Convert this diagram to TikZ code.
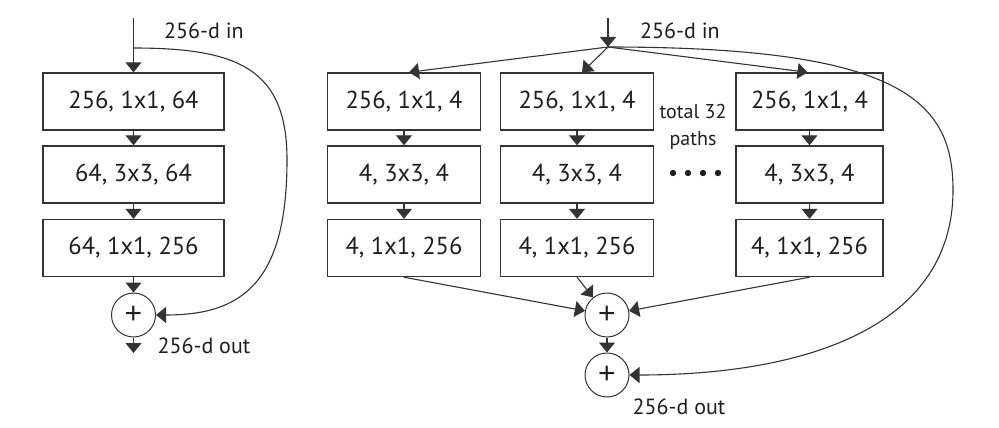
\documentclass[tikz,border=0pt]{standalone}
\usepackage{fontspec}
\setmainfont{PT Sans}
\newfontfamily\plusfont{Liberation Sans}
\usetikzlibrary{arrows.meta}
\definecolor{lncol}{HTML}{333333}
\definecolor{txcol}{HTML}{1E1E1E}
\begin{document}
\begin{tikzpicture}[x=1pt,y=-1pt,
  box/.style={draw=lncol, line width=1.4pt, minimum height=57pt, inner sep=0pt, font=\fontsize{24.5}{28}\selectfont, text=txcol},
  sumnode/.style={draw=lncol, line width=1pt, circle, minimum size=44pt, inner sep=0pt, font=\plusfont\fontsize{30}{30}\selectfont, text=txcol},
  lbl/.style={font=\fontsize{22}{26}\selectfont, text=txcol, inner sep=0pt},
  arr/.style={draw=lncol, line width=1.1pt, -{Triangle[width=16pt,length=10pt]}},
  dotmark/.style={fill=txcol}]
\useasboundingbox (0,0) rectangle (999,428);
% ---------------- left block ----------------
\node[box, minimum width=181pt] (L1) at (133.5,101.5) {256, 1x1, 64};
\node[box, minimum width=181pt] (L2) at (133.5,174.5) {64, 3x3, 64};
\node[box, minimum width=181pt] (L3) at (133.5,248) {64, 1x1, 256};
\node[sumnode] (Ls) at (133.5,315) {+};
\coordinate (Lin) at (133.5,18);
\coordinate (Lsplit) at (133.5,48);
\coordinate (Lout) at (133.5,353);
\node[lbl] (Lintxt) at (204,31) {256-d in};
\node[lbl] (Louttxt) at (204,346) {256-d out};
\draw[arr] (Lin) -- (L1);
\draw[arr] (L1) -- (L2);
\draw[arr] (L2) -- (L3);
\draw[arr] (L3) -- (Ls);
\draw[arr] (Ls) -- (Lout);
\draw[arr] (Lsplit) .. controls (240,48) and (287,70) .. (287,160)
  .. controls (287,285) and (240,315) .. (Ls);
% ---------------- right block ----------------
\node[box, minimum width=153pt] (A1) at (404,101.5) {256, 1x1, 4};
\node[box, minimum width=153pt] (A2) at (404,174.5) {4, 3x3, 4};
\node[box, minimum width=153pt] (A3) at (404,248) {4, 1x1, 256};
\node[box, minimum width=153pt] (B1) at (577,101.5) {256, 1x1, 4};
\node[box, minimum width=153pt] (B2) at (577,174.5) {4, 3x3, 4};
\node[box, minimum width=153pt] (B3) at (577,248) {4, 1x1, 256};
\node[box, minimum width=147pt] (C1) at (809.5,101.5) {256, 1x1, 4};
\node[box, minimum width=147pt] (C2) at (809.5,174.5) {4, 3x3, 4};
\node[box, minimum width=147pt] (C3) at (809.5,248) {4, 1x1, 256};
\node[sumnode] (R1) at (607,315) {+};
\node[sumnode] (R2) at (607,375) {+};
\coordinate (Rin) at (608,18);
\coordinate (Rsplit) at (608,47);
\node[lbl] (Rintxt) at (680,31) {256-d in};
\node[lbl] (Routtxt) at (679,407) {256-d out};
\node[lbl, font=\fontsize{20}{27}\selectfont, align=center] (paths) at (693,127) {total 32\\paths};
\foreach \dx in {673,688,703,718} \fill[dotmark] (\dx,173) circle (3.2pt);
\draw[arr] (Rin) -- (Rsplit);
\draw[arr] (Rsplit) -- ([xshift=5pt]A1.north);
\draw[arr] (Rsplit) -- ([xshift=5pt]B1.north);
\draw[arr] (Rsplit) -- ([xshift=-2pt]C1.north);
\draw[arr] (A1) -- (A2);
\draw[arr] (A2) -- (A3);
\draw[arr] (B1) -- (B2);
\draw[arr] (B2) -- (B3);
\draw[arr] (C1) -- (C2);
\draw[arr] (C2) -- (C3);
\draw[arr] (A3.south) -- (R1);
\draw[arr] (B3.south) -- (R1);
\draw[arr] (C3.south) -- (R1);
\draw[arr] (R1) -- (R2);
\draw[arr] (Rsplit) .. controls (900,47) and (953,100) .. (953,190)
  .. controls (953,330) and (800,375) .. (R2);
\end{tikzpicture}
\end{document}
